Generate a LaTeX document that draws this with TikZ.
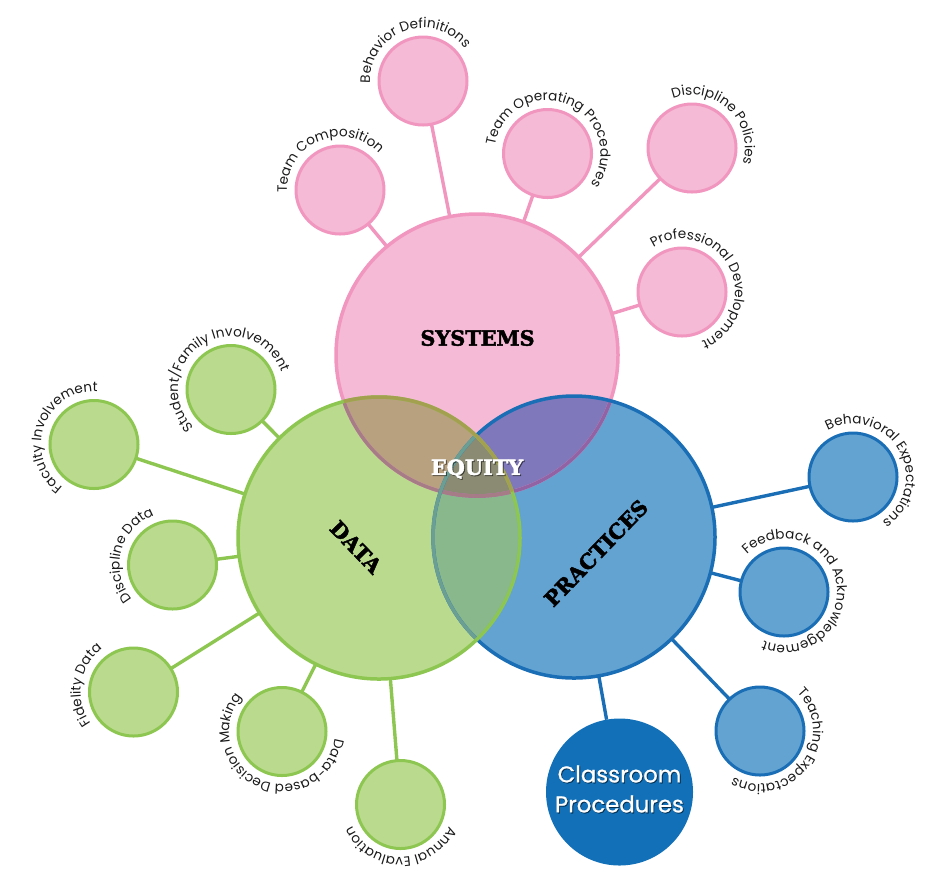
\documentclass[tikz,border=0pt]{standalone}
\usepackage{fontspec}
\setmainfont{Poppins}
\newfontfamily\slabfont{DejaVu Serif}[BoldFeatures={FakeBold=2.2}]
\newfontfamily\cpfont{Poppins}[FakeBold=0.9]
\usetikzlibrary{decorations.text}
\definecolor{pinkF}{HTML}{F5BAD5}
\definecolor{pinkD}{HTML}{F196BF}
\definecolor{greenF}{HTML}{BADB8E}
\definecolor{greenD}{HTML}{8DC651}
\definecolor{blueF}{HTML}{63A3D1}
\definecolor{blueD}{HTML}{1A6EB5}
\definecolor{cpF}{HTML}{1170B8}
\definecolor{ovSD}{HTML}{B8A17F}
\definecolor{ovSP}{HTML}{7F78BB}
\definecolor{ovDP}{HTML}{88B88B}
\definecolor{ovSDP}{HTML}{8B8B74}
\definecolor{sysInD}{HTML}{A67C86}
\definecolor{sysInP}{HTML}{9163A5}
\definecolor{datInS}{HTML}{A3A04F}
\definecolor{praInD}{HTML}{6C9F94}
\definecolor{lbl}{HTML}{1A1A1A}
\newcommand\lblfont{\fontsize{6.8}{8}\selectfont}
\newcommand\bigfont{\slabfont\bfseries\fontsize{10.4}{12}\selectfont}
\newcommand\arclabel[3]{%
  \path[decorate,decoration={text along path,text align=center,
    text color=lbl,text={|\lblfont|#3}}]
    (#1.center) ++(#2+180:26.5pt) arc[start angle=#2+180,end angle=#2-180,radius=26.5pt];}
\begin{document}
\begin{tikzpicture}[x=0.5pt,y=0.5pt,
  bigc/.style={circle,inner sep=0,outer sep=0,minimum size=141pt,line width=1.75pt},
  smallc/.style={circle,inner sep=0,outer sep=0,minimum size=44pt,line width=1.5pt},
  pinkc/.style={smallc,fill=pinkF,draw=pinkD},
  greenc/.style={smallc,fill=greenF,draw=greenD},
  bluec/.style={smallc,fill=blueF,draw=blueD},
  conn/.style={line width=1.7pt},
  biglabel/.style={font=\bigfont,text=black,inner sep=0},
  cplabel/.style={font=\cpfont\fontsize{11.4}{15}\selectfont,align=center,inner sep=0}]
\useasboundingbox (0,0) rectangle (940,-891);
% big circles
\node[bigc,fill=pinkF] (sys) at (477,-355) {};
\node[bigc,fill=blueF] (pra) at (574,-537) {};
\node[bigc,fill=greenF] (dat) at (379,-538) {};
% overlaps
\begin{scope}
  \clip (sys.center) circle[radius=70.5pt];
  \fill[ovSD] (dat.center) circle[radius=70.5pt];
  \fill[ovSP] (pra.center) circle[radius=70.5pt];
\end{scope}
\begin{scope}
  \clip (dat.center) circle[radius=70.5pt];
  \fill[ovDP] (pra.center) circle[radius=70.5pt];
\end{scope}
\begin{scope}
  \clip (sys.center) circle[radius=70.5pt];
  \clip (dat.center) circle[radius=70.5pt];
  \fill[ovSDP] (pra.center) circle[radius=70.5pt];
\end{scope}
% borders
\draw[pinkD,line width=1.75pt] (sys.center) circle[radius=70.5pt];
\begin{scope}
  \clip (pra.center) circle[radius=70.5pt];
  \draw[sysInP,line width=1.75pt] (sys.center) circle[radius=70.5pt];
\end{scope}
\begin{scope}
  \clip (dat.center) circle[radius=70.5pt];
  \draw[sysInD,line width=1.75pt] (sys.center) circle[radius=70.5pt];
\end{scope}
\draw[blueD,line width=1.75pt] (pra.center) circle[radius=70.5pt];
\begin{scope}
  \clip (dat.center) circle[radius=70.5pt];
  \draw[praInD,line width=1.75pt] (pra.center) circle[radius=70.5pt];
\end{scope}
\draw[greenD,line width=1.75pt] (dat.center) circle[radius=70.5pt];
\begin{scope}
  \clip (sys.center) circle[radius=70.5pt];
  \draw[datInS,line width=1.75pt] (dat.center) circle[radius=70.5pt];
\end{scope}
% big labels
\node[biglabel] (systxt) at (477.5,-338) {SYSTEMS};
\node[biglabel,rotate=-46] (dattxt) at (356,-547) {DATA};
\node[biglabel,rotate=46] (pratxt) at (596,-553) {PRACTICES};
\node[biglabel,text=black,opacity=0.45] (eqshadow) at (478,-470) {EQUITY};
\node[biglabel,text=white] (eqtxt) at (477,-469) {EQUITY};
% small circles: systems
\node[pinkc] (tc) at (340,-190) {};
\node[pinkc] (bd) at (423,-81) {};
\node[pinkc] (to) at (547.5,-153.5) {};
\node[pinkc] (dp) at (692,-148) {};
\node[pinkc] (pd) at (682,-292) {};
% data
\node[greenc] (sf) at (231,-389.5) {};
\node[greenc] (fi) at (94,-444.5) {};
\node[greenc] (dd) at (172.5,-565) {};
\node[greenc] (fd) at (133.5,-692) {};
\node[greenc] (dm) at (282,-731.5) {};
\node[greenc] (ae) at (400.5,-804.5) {};
% practices
\node[bluec] (be) at (853,-477) {};
\node[bluec] (fa) at (784,-592) {};
\node[bluec] (te) at (760,-731) {};
\node[circle,inner sep=0,outer sep=0,minimum size=73.5pt,fill=cpF] (cp) at (619.5,-792) {};
% connectors
\foreach \s in {tc,bd,to,dp,pd} \draw[conn,pinkD] (\s) -- (sys);
\foreach \s in {sf,fi,dd,fd,dm,ae} \draw[conn,greenD] (\s) -- (dat);
\foreach \s in {be,fa,te,cp} \draw[conn,blueD] (\s) -- (pra);
% classroom text
\node[cplabel,text=black,opacity=0.5] (cpshadow) at (620.4,-789.9) {Classroom\\Procedures};
\node[cplabel,text=white] (cptxt) at (619.5,-789) {Classroom\\Procedures};
% arc labels
\arclabel{tc}{113}{Team Composition}
\arclabel{bd}{110}{Behavior Definitions}
\arclabel{to}{68}{Team Operating Procedures}
\arclabel{dp}{47}{Discipline Policies}
\arclabel{pd}{27}{Professional Development}
\arclabel{sf}{122}{Student/Family Involvement}
\arclabel{fi}{160}{Faculty Involvement}
\arclabel{dd}{165}{Discipline Data}
\arclabel{fd}{171}{Fidelity Data}
\arclabel{dm}{-114}{Data-based Decision Making}
\arclabel{ae}{-90}{Annual Evaluation}
\arclabel{be}{31}{Behavioral Expectations}
\arclabel{fa}{11}{Feedback and Acknowledgement}
\arclabel{te}{-37}{Teaching Expectations}
\end{tikzpicture}
\end{document}
